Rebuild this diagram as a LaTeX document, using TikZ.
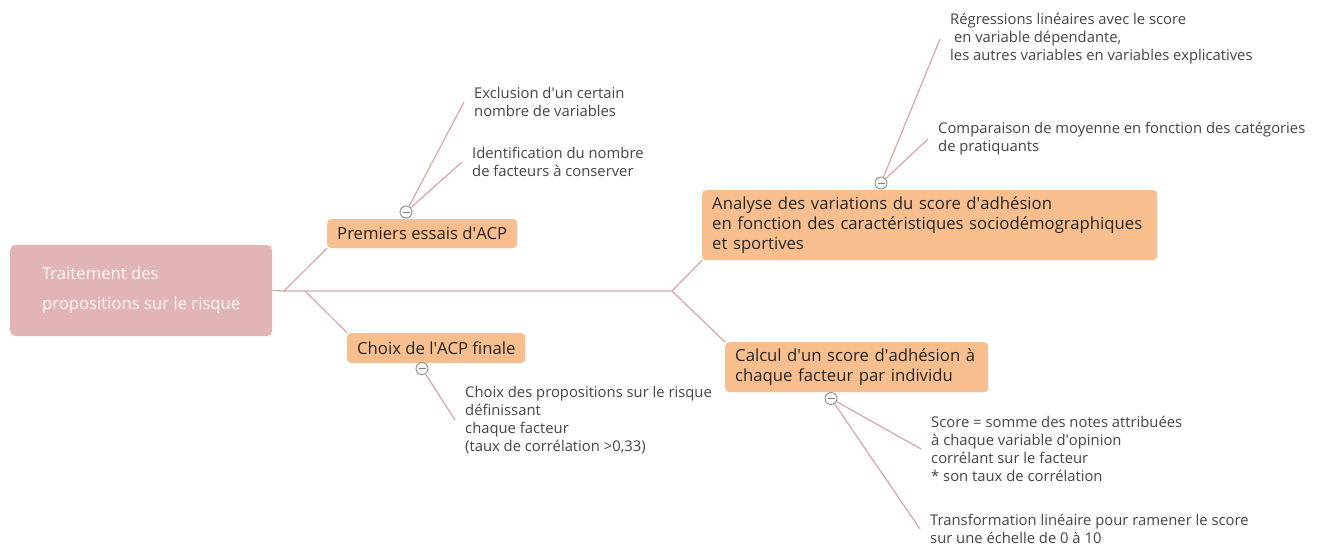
\documentclass[tikz,border=0pt]{standalone}
\usepackage{fontspec}
\setmainfont{Open Sans}
\usetikzlibrary{positioning}

\definecolor{rootpink}{HTML}{E2B4B6}
\definecolor{boxorange}{HTML}{F8BE8E}
\definecolor{branchpink}{HTML}{DCA4A7}
\definecolor{leafgray}{HTML}{444444}

\newcommand{\apos}{\textquotesingle}

\tikzset{
	rootbox/.style={rectangle, rounded corners=5pt, fill=rootpink, text=white!92!rootpink,
		inner sep=0pt, minimum width=262pt, minimum height=91pt, align=left,
		font=\fontsize{16.7}{30}\selectfont},
	topicbox/.style={rectangle, rounded corners=4pt, fill=boxorange, text=black!85,
		inner xsep=10pt, inner ysep=0pt, align=left, font=\fontsize{16.7}{20}\selectfont},
	leaftext/.style={anchor=west, inner xsep=10pt, inner ysep=0pt, align=left, text=leafgray,
		font=\fontsize{14.8}{18}\selectfont},
	fold/.style={circle, draw=gray, fill=white, line width=0.8pt, minimum size=12pt, inner sep=0pt,
		path picture={\draw[gray, line width=0.8pt] ([xshift=-3.5pt]path picture bounding box.center)
			-- ([xshift=3.5pt]path picture bounding box.center);}},
	branch/.style={branchpink, line width=1.2pt}
}

\begin{document}
\begin{tikzpicture}[x=1pt, y=-1pt]
	\useasboundingbox (0, 0) rectangle (1321, 547);

	% main topics
	\node[rootbox, anchor=west]		(root)	at (10, 290.5)	{Traitement des\\propositions sur le risque};
	\node[topicbox, anchor=west, minimum height=29pt]	(prem)	at (327, 233.5)	{Premiers essais d\apos ACP};
	\node[topicbox, anchor=west, minimum height=30pt]	(choix)	at (347, 348)	{Choix de l\apos ACP finale};
	\node[topicbox, anchor=north west, text width=435pt, minimum height=70pt]	(ana)	at (702, 190)
		{Analyse des variations du score d\apos adhésion\\en fonction des caractéristiques sociodémographiques\\et sportives};
	\node[topicbox, anchor=north west, text width=243pt, minimum height=50pt]	(calc)	at (725, 342)
		{Calcul d\apos un score d\apos adhésion à\\chaque facteur par individu};

	% fold markers
	\node[fold]	(premF)		at (406, 212)	{};
	\node[fold]	(choixF)	at (422, 368.5)	{};
	\node[fold]	(anaF)		at (881, 183)	{};
	\node[fold]	(calcF)		at (831, 398.5)	{};

	% leaves
	\node[leaftext]	(exclu)		at (464, 102)	{Exclusion d\apos un certain\\nombre de variables};
	\node[leaftext]	(ident)		at (462, 162)	{Identification du nombre\\de facteurs à conserver};
	\node[leaftext]	(props)		at (455, 420)	{Choix des propositions sur le risque\\définissant\\chaque facteur\\(taux de corrélation >0,33)};
	\node[leaftext]	(regr)		at (940, 39)	{Régressions linéaires avec le score\\\ en variable dépendante,\\les autres variables en variables explicatives};
	\node[leaftext]	(compa)		at (928, 139)	{Comparaison de moyenne en fonction des catégories\\de pratiquants};
	\node[leaftext]	(score)		at (921, 449)	{Score = somme des notes attribuées\\à chaque variable d\apos opinion\\corrélant sur le facteur\\* son taux de corrélation};
	\node[leaftext]	(transf)	at (920, 529)	{Transformation linéaire pour ramener le score\\sur une échelle de 0 à 10};

	\coordinate	(hub)	at (284, 291);
	\coordinate	(fork)	at (305, 291);
	\coordinate	(split)	at (672, 291);

	\draw[branch]	(root.east) -- (hub) -- (split);
	\draw[branch]	(hub) -- (prem.south west);
	\draw[branch]	(fork) -- (choix.north west);
	\draw[branch]	(split) -- (ana.south west);
	\draw[branch]	(split) -- (calc.north west);

	\draw[branch]	(premF) -- (exclu.west);
	\draw[branch]	(premF) -- (ident.west);
	\draw[branch]	(choixF) -- (props.west);
	\draw[branch]	(anaF) -- (regr.west);
	\draw[branch]	(anaF) -- (compa.west);
	\draw[branch]	(calcF) -- (score.west);
	\draw[branch]	(calcF) -- (transf.west);
\end{tikzpicture}
\end{document}
